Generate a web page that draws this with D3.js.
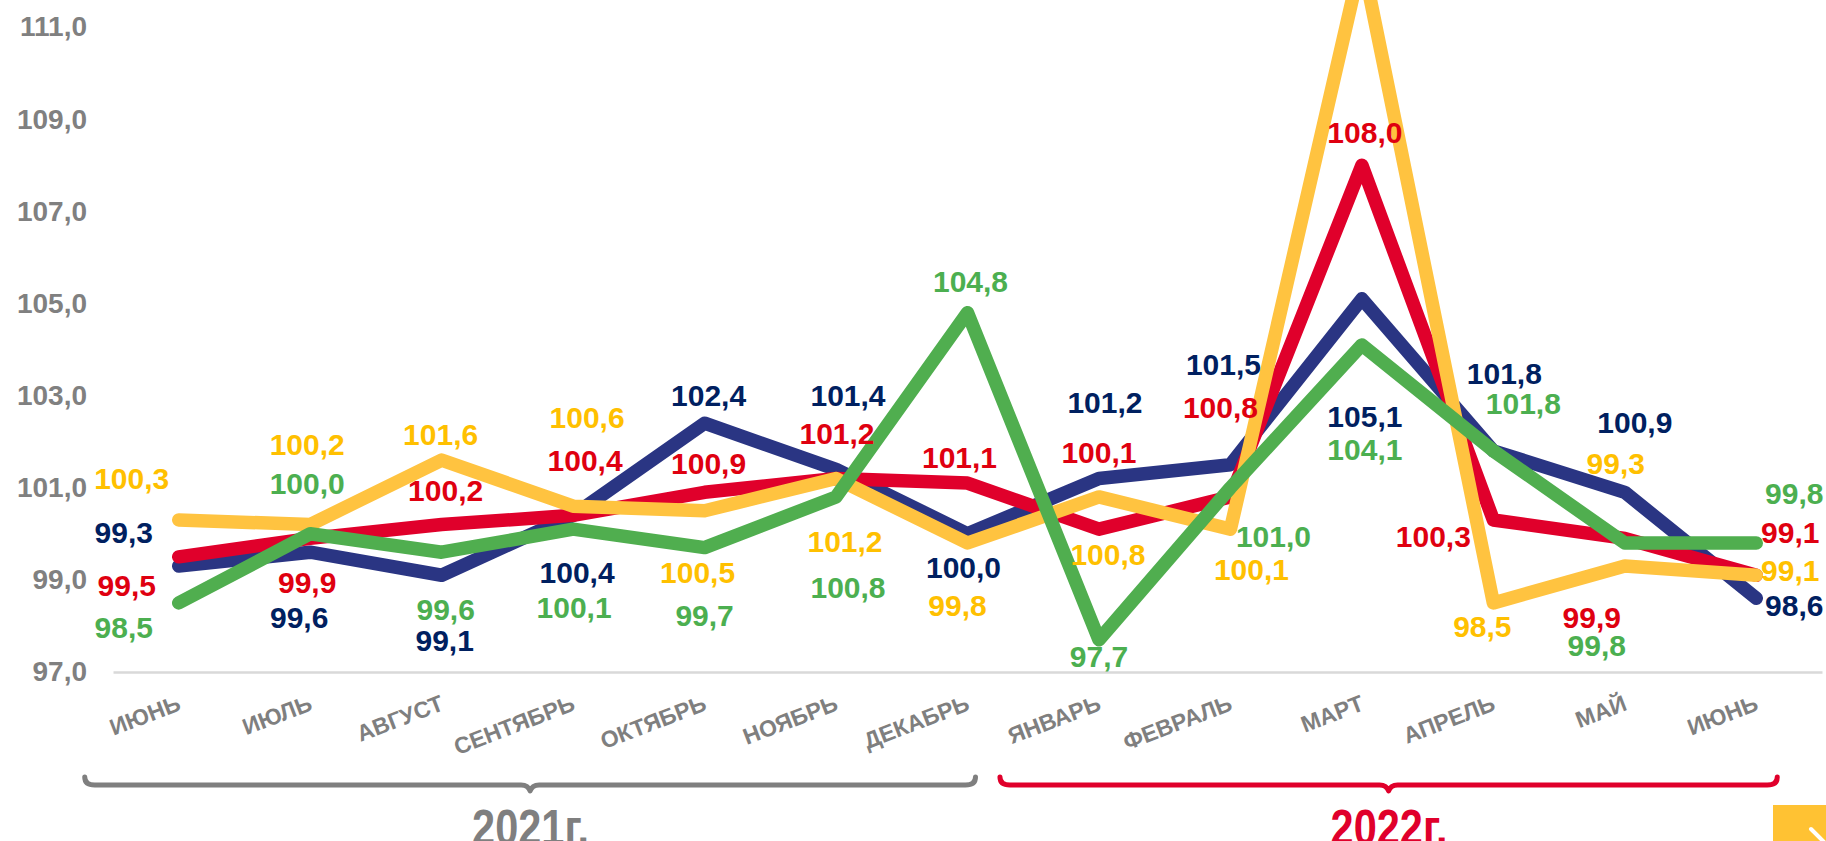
<!DOCTYPE html>
<html>
<head>
<meta charset="utf-8">
<script src="https://cdn.jsdelivr.net/npm/d3@7"></script>
<style>
  body { margin: 0; background: #fff; }
  svg { display: block; font-family: "Liberation Sans", Arial, sans-serif; }
</style>
</head>
<body>
<div id="chart"></div>
<script>

// Months on the x axis (June 2021 .. June 2022)
const months = ["ИЮНЬ", "ИЮЛЬ", "АВГУСТ", "СЕНТЯБРЬ", "ОКТЯБРЬ", "НОЯБРЬ", "ДЕКАБРЬ",
                "ЯНВАРЬ", "ФЕВРАЛЬ", "МАРТ", "АПРЕЛЬ", "МАЙ", "ИЮНЬ"];

// Series values
const blueValues   = [99.3, 99.6, 99.1, 100.4, 102.4, 101.4, 100.0, 101.2, 101.5, 105.1, 101.8, 100.9, 98.6];
const redValues    = [99.5, 99.9, 100.2, 100.4, 100.9, 101.2, 101.1, 100.1, 100.8, 108.0, 100.3, 99.9, 99.1];
const yellowValues = [100.3, 100.2, 101.6, 100.6, 100.5, 101.2, 99.8, 100.8, 100.1, 112.5, 98.5, 99.3, 99.1];
const greenValues  = [98.5, 100.0, 99.6, 100.1, 99.7, 100.8, 104.8, 97.7, 101.0, 104.1, 101.8, 99.8, 99.8];

// y axis tick labels
const yTicks = [97, 99, 101, 103, 105, 107, 109, 111];

// year groups under the axis (first and last month index)
const yearNames = ["2021г.", "2022г."];
const yearFrom  = [0, 7];
const yearTo    = [6, 12];

const width = 1826, height = 841;

const svg = d3.select("#chart")
  .append("svg")
  .attr("width", width)
  .attr("height", height)
  .attr("viewBox", [0, 0, width, height]);

svg.append("rect").attr("width", width).attr("height", height).attr("fill", "#fff");

// Scales
const xScale = d3.scalePoint()
  .domain(d3.range(months.length))
  .range([113, 1822])
  .padding(0.5);

const yScale = d3.scaleLinear()
  .domain([97, 111])
  .range([672, 27]);

const ru = d3.formatLocale({ decimal: ",", thousands: " ", grouping: [3], currency: ["", ""] });
const fmt = ru.format(".1f");

// y axis (labels only)
const yAxis = svg.append("g")
  .attr("transform", "translate(95,0)")
  .call(d3.axisLeft(yScale).tickValues(yTicks).tickFormat(fmt).tickSize(0).tickPadding(8));
yAxis.select(".domain").remove();
yAxis.selectAll("text")
  .attr("fill", "#808080")
  .attr("font-size", "28px")
  .attr("font-weight", "bold")
  .attr("font-family", "Liberation Sans, Arial, sans-serif");

// x axis: the domain line is the light grey baseline
const xAxis = svg.append("g")
  .attr("transform", `translate(0,${yScale(97)})`)
  .call(d3.axisBottom(xScale).tickFormat(i => months[i]).tickSize(0).tickSizeOuter(0));
xAxis.select(".domain")
  .attr("stroke", "#d9d9d9")
  .attr("stroke-width", 2.5);
xAxis.selectAll("text")
  .attr("y", 0)
  .attr("dy", "0.35em")
  .attr("text-anchor", "end")
  .attr("transform", "translate(0,30) rotate(-21)")
  .attr("fill", "#7f7f7f")
  .attr("font-size", "23px")
  .attr("font-weight", "bold")
  .attr("font-family", "Liberation Sans, Arial, sans-serif");

// Lines (drawn blue, red, yellow, green - green ends up on top)
const series = [
  { values: blueValues,   line: "#2a3583", label: "#002060" },
  { values: redValues,    line: "#e0002b", label: "#df0010" },
  { values: yellowValues, line: "#ffc340", label: "#ffc000" },
  { values: greenValues,  line: "#50ae4f", label: "#4caf50" }
];

const lineGen = d3.line()
  .x((d, i) => xScale(i))
  .y(d => yScale(d));

svg.selectAll(".series-line")
  .data(series)
  .enter()
  .append("path")
    .attr("class", "series-line")
    .attr("d", s => lineGen(s.values))
    .attr("fill", "none")
    .attr("stroke", s => s.line)
    .attr("stroke-width", 13.5)
    .attr("stroke-linejoin", "round")
    .attr("stroke-linecap", "round");

// Label nudges in px from each point (labels were hand placed in the original)
const blueNudge   = [[-55,-34],[-11,65],[3,65],[4,57],[4,-28],[12,-74],[-4,34],[6,-76],[-7,-100],[3,118],[11,-77],[10,-70],[38,7]];
const redNudge    = [[-52,29],[-3,44],[4,-34],[12,-55],[4,-29],[1,-45],[-8,-26],[0,-77],[-10,-89],[3,-33],[-60,17],[-33,79],[34,-43]];
const yellowNudge = [[-47,-41],[-3,-80],[-1,-26],[14,-89],[-7,62],[9,63],[-10,62],[9,58],[21,40],null,[-11,24],[-9,-103],[34,-5]];
const greenNudge  = [[-55,25],[-3,-50],[4,57],[1,78],[0,68],[12,91],[3,-31],[0,17],[43,49],[3,105],[30,-47],[-28,102],[38,-50]];
const nudges = [blueNudge, redNudge, yellowNudge, greenNudge];

series.forEach((s, k) => {
  const pts = s.values.map((v, i) => ({ v, i, n: nudges[k][i] })).filter(p => p.n);
  svg.append("g")
    .selectAll("text")
    .data(pts)
    .enter()
    .append("text")
      .attr("x", p => xScale(p.i) + p.n[0])
      .attr("y", p => yScale(p.v) + p.n[1])
      .attr("dy", "0.35em")
      .attr("text-anchor", "middle")
      .attr("fill", s.label)
      .attr("font-size", "30px")
      .attr("font-weight", "bold")
      .text(p => fmt(p.v));
});

// Year brackets under the month labels
const bracketY = 785;
const bracketColors = ["#7f7f7f", "#e0002b"];
const bracketPadL = [94, 99];
const bracketPadR = [8, 21];

yearNames.forEach((name, k) => {
  const x0 = xScale(yearFrom[k]) - bracketPadL[k];
  const x1 = xScale(yearTo[k]) + bracketPadR[k];
  const mid = (x0 + x1) / 2;
  const p = d3.path();
  p.moveTo(x0, bracketY - 8);
  p.quadraticCurveTo(x0, bracketY, x0 + 10, bracketY);
  p.lineTo(mid - 9, bracketY);
  p.quadraticCurveTo(mid - 2, bracketY, mid, bracketY + 6);
  p.quadraticCurveTo(mid + 2, bracketY, mid + 9, bracketY);
  p.lineTo(x1 - 10, bracketY);
  p.quadraticCurveTo(x1, bracketY, x1, bracketY - 8);
  svg.append("path")
    .attr("d", p.toString())
    .attr("fill", "none")
    .attr("stroke", bracketColors[k])
    .attr("stroke-width", 5)
    .attr("stroke-linecap", "round")
    .attr("stroke-linejoin", "round");

  svg.append("text")
    .attr("x", mid - 58)
    .attr("y", 845)
    .attr("textLength", 117)
    .attr("lengthAdjust", "spacingAndGlyphs")
    .attr("fill", bracketColors[k])
    .attr("font-size", "50px")
    .attr("font-weight", "bold")
    .text(name);
});

// yellow corner badge
svg.append("rect")
  .attr("x", 1773).attr("y", 805)
  .attr("width", 60).attr("height", 40)
  .attr("fill", "#ffc233");
svg.append("line")
  .attr("x1", 1811).attr("y1", 829)
  .attr("x2", 1826).attr("y2", 844)
  .attr("stroke", "#fff")
  .attr("stroke-width", 4)
  .attr("stroke-linecap", "round");

</script>
</body>
</html>
